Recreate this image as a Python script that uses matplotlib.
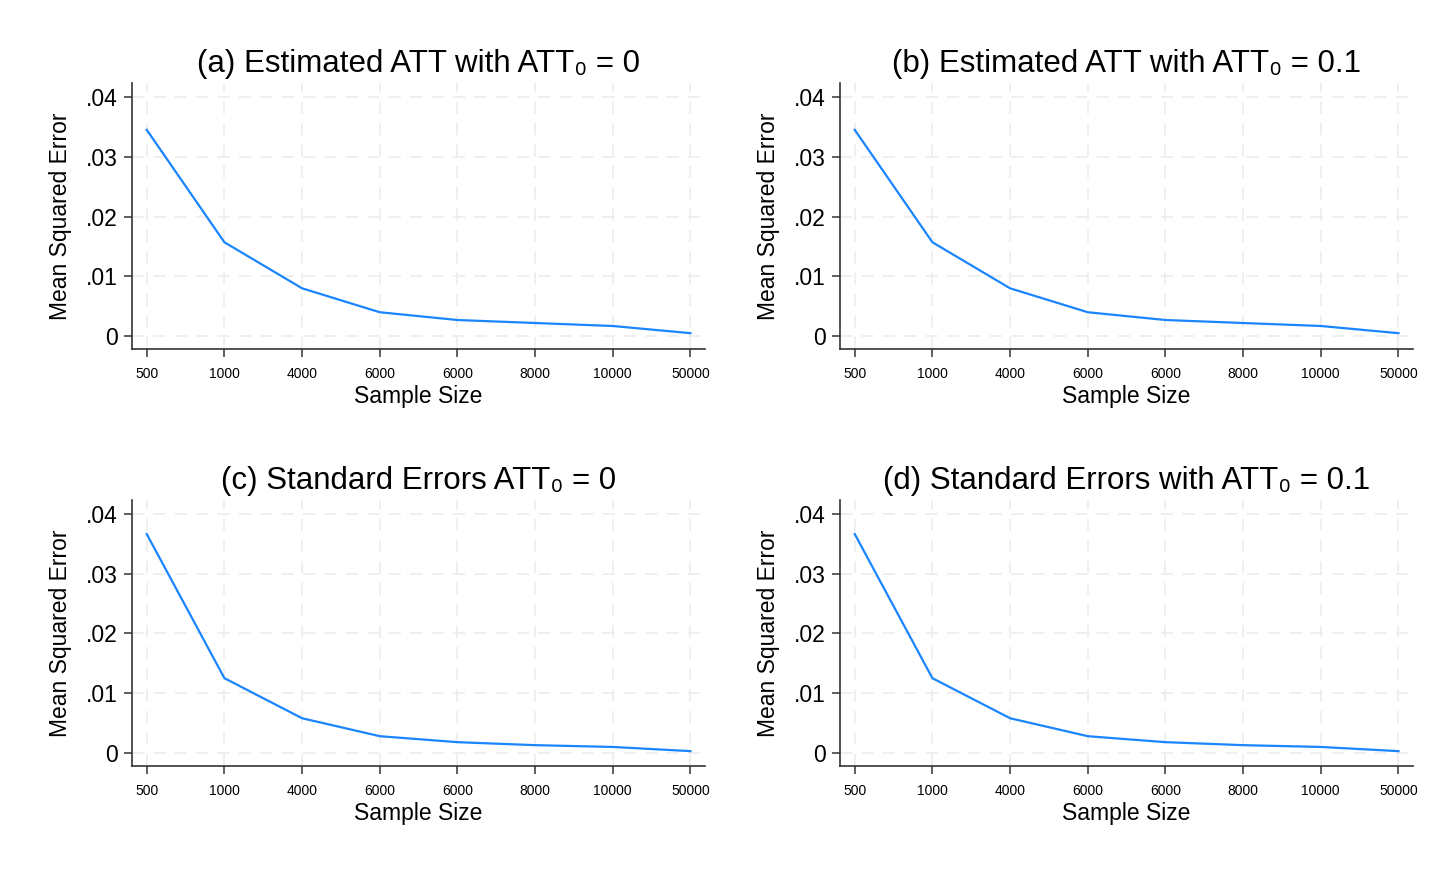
import matplotlib
matplotlib.use("Agg")
import matplotlib.pyplot as plt

plt.rcParams['font.family'] = ['Liberation Sans', 'DejaVu Sans']

sample_sizes = ["500", "1000", "4000", "6000", "6000", "8000", "10000", "50000"]
mse_a = [0.0345, 0.0157, 0.0080, 0.0040, 0.0027, 0.0022, 0.0017, 0.0005]
mse_b = [0.0345, 0.0157, 0.0080, 0.0040, 0.0027, 0.0022, 0.0017, 0.0005]
mse_c = [0.0366, 0.0125, 0.0058, 0.0028, 0.0018, 0.0013, 0.0010, 0.0003]
mse_d = [0.0366, 0.0125, 0.0058, 0.0028, 0.0018, 0.0013, 0.0010, 0.0003]
titles = ["(a) Estimated ATT with ATT\u2080 = 0",
          "(b) Estimated ATT with ATT\u2080 = 0.1",
          "(c) Standard Errors ATT\u2080 = 0",
          "(d) Standard Errors with ATT\u2080 = 0.1"]
y_ticks = [0, 0.01, 0.02, 0.03, 0.04]
y_ticklabels = ["0", ".01", ".02", ".03", ".04"]

fig = plt.figure(figsize=(14.55, 8.73), dpi=100)
w, h = 0.394, 0.305
positions = [(0.0907, 0.600), (0.5773, 0.600), (0.0907, 0.1226), (0.5773, 0.1226)]
series = [mse_a, mse_b, mse_c, mse_d]
for (l, b), ys, t in zip(positions, series, titles):
    ax = fig.add_axes([l, b, w, h])
    xs = list(range(len(sample_sizes)))
    ax.plot(xs, ys, color='#1a85ff', lw=1.6, zorder=3)
    ax.set_xlim(-0.19, 7.19)
    ax.set_ylim(-0.00218, 0.04234)
    ax.set_xticks(xs)
    ax.set_xticklabels(sample_sizes, fontsize=10)
    ax.set_yticks(y_ticks)
    ax.set_yticklabels(y_ticklabels, fontsize=16.5)
    ax.grid(True, color='#ebebeb', linestyle=(0, (8, 6)), lw=1.1, zorder=0)
    for s in ['top', 'right']:
        ax.spines[s].set_visible(False)
    for s in ['left', 'bottom']:
        ax.spines[s].set_color('#333333')
        ax.spines[s].set_linewidth(1.2)
    ax.tick_params(axis='both', direction='out', length=6, width=1.1, color='#333333')
    ax.tick_params(axis='x', pad=7)
    ax.tick_params(axis='y', pad=4)
    ax.set_xlabel("Sample Size", fontsize=16.5, labelpad=3)
    ax.set_ylabel("Mean Squared Error", fontsize=16.5, labelpad=10)
    ax.set_title(t, fontsize=22.5, pad=8)

fig.savefig("out.png", dpi=100, facecolor='white')
